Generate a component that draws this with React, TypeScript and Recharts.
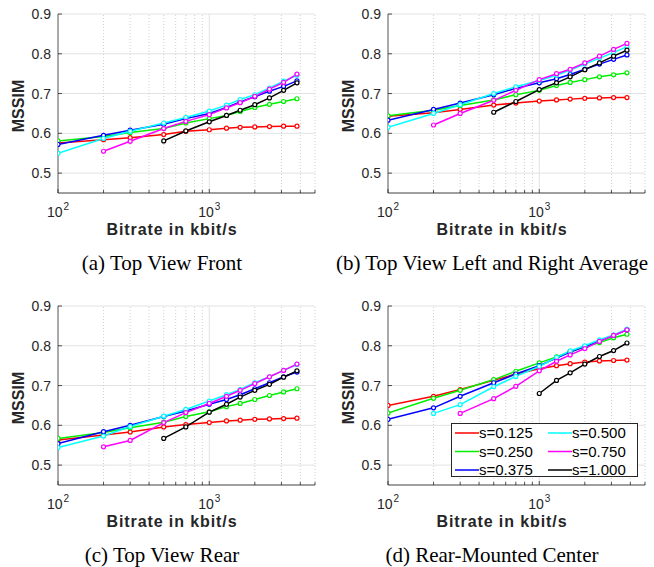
import { LineChart, Line, XAxis, YAxis, CartesianGrid, ReferenceLine, Legend } from 'recharts'

const BITRATE = [100, 200, 300, 500, 700, 1000, 1300, 1600, 2000, 2500, 3100, 3800]
const SERIES = ['s=0.125', 's=0.250', 's=0.375', 's=0.500', 's=0.750', 's=1.000']
const COLORS = ['#ff0000', '#00ee00', '#0000ff', '#00ffff', '#ff00ff', '#000000']

const Y_TICKS = [0.5, 0.6, 0.7, 0.8, 0.9]
const X_TICKS = [100, 200, 300, 400, 500, 600, 700, 800, 900, 1000, 2000, 3000, 4000, 5000]
const X_MINOR = [200, 300, 400, 500, 600, 700, 800, 900, 2000, 3000, 4000, 5000]

// one row per s value, in SERIES order
const FRONT = [
  [0.576, 0.584, 0.589, 0.597, 0.605, 0.609, 0.613, 0.615, 0.616, 0.617, 0.618, 0.618],
  [0.581, 0.592, 0.602, 0.612, 0.626, 0.637, 0.645, 0.655, 0.665, 0.673, 0.680, 0.687],
  [0.572, 0.595, 0.608, 0.623, 0.637, 0.650, 0.665, 0.679, 0.692, 0.706, 0.718, 0.732],
  [0.550, 0.587, 0.605, 0.626, 0.640, 0.656, 0.671, 0.685, 0.697, 0.714, 0.731, 0.746],
  [null, 0.555, 0.580, 0.612, 0.630, 0.647, 0.664, 0.677, 0.693, 0.711, 0.728, 0.749],
  [null, null, null, 0.581, 0.606, 0.629, 0.645, 0.658, 0.672, 0.689, 0.708, 0.727],
]

const LEFT_RIGHT = [
  [0.643, 0.652, 0.660, 0.671, 0.676, 0.681, 0.684, 0.686, 0.688, 0.689, 0.690, 0.690],
  [0.644, 0.658, 0.670, 0.684, 0.697, 0.708, 0.720, 0.728, 0.735, 0.742, 0.747, 0.752],
  [0.633, 0.660, 0.676, 0.697, 0.713, 0.727, 0.737, 0.748, 0.761, 0.774, 0.786, 0.797],
  [0.615, 0.650, 0.672, 0.700, 0.717, 0.733, 0.746, 0.759, 0.774, 0.789, 0.803, 0.818],
  [null, 0.621, 0.650, 0.683, 0.708, 0.735, 0.750, 0.761, 0.777, 0.794, 0.811, 0.826],
  [null, null, null, 0.653, 0.680, 0.710, 0.727, 0.742, 0.760, 0.777, 0.794, 0.809],
]

const REAR = [
  [0.563, 0.576, 0.583, 0.596, 0.602, 0.607, 0.611, 0.613, 0.615, 0.616, 0.617, 0.618],
  [0.567, 0.582, 0.594, 0.608, 0.622, 0.634, 0.647, 0.655, 0.665, 0.675, 0.684, 0.692],
  [0.554, 0.584, 0.600, 0.622, 0.636, 0.653, 0.665, 0.677, 0.692, 0.707, 0.722, 0.734],
  [0.544, 0.573, 0.597, 0.623, 0.640, 0.661, 0.677, 0.690, 0.707, 0.722, 0.738, 0.753],
  [null, 0.546, 0.562, 0.607, 0.632, 0.655, 0.673, 0.688, 0.705, 0.722, 0.738, 0.754],
  [null, null, null, 0.567, 0.596, 0.633, 0.653, 0.671, 0.688, 0.703, 0.721, 0.737],
]

const CENTER = [
  [0.650, 0.673, 0.690, 0.713, 0.729, 0.742, 0.750, 0.755, 0.759, 0.762, 0.763, 0.764],
  [0.631, 0.668, 0.688, 0.715, 0.736, 0.757, 0.772, 0.785, 0.797, 0.808, 0.820, 0.829],
  [0.615, 0.644, 0.673, 0.707, 0.729, 0.750, 0.769, 0.784, 0.798, 0.812, 0.826, 0.840],
  [null, 0.630, 0.652, 0.697, 0.723, 0.748, 0.771, 0.787, 0.800, 0.815, 0.827, 0.842],
  [null, null, 0.630, 0.667, 0.698, 0.737, 0.761, 0.777, 0.793, 0.811, 0.826, 0.840],
  [null, null, null, null, null, 0.680, 0.713, 0.732, 0.754, 0.773, 0.788, 0.807],
]

const SANS = '"Liberation Sans", Arial, Helvetica, sans-serif'
const SERIF = '"Liberation Serif", "Times New Roman", serif'
const INK = '#262626'

function XTick(props: any) {
  const { x, y, payload } = props
  const v = payload.value
  const major = v === 100 || v === 1000
  return (
    <g>
      <line x1={x} x2={x} y1={y} y2={y - (major ? 4 : 3)} stroke={INK} strokeWidth={0.8} />
      {major && (
        <text x={x} y={y + 24} textAnchor="middle" fontSize={14} fill={INK} fontFamily={SANS}>
          <tspan>10</tspan>
          <tspan dy={-7} dx={1} fontSize={10}>{Math.round(Math.log10(v))}</tspan>
        </text>
      )}
    </g>
  )
}

function YTick(props: any) {
  const { x, y, payload } = props
  return (
    <g>
      <line x1={x} x2={x + 4} y1={y} y2={y} stroke={INK} strokeWidth={0.8} />
      <text x={x - 7} y={y + 5} textAnchor="end" fontSize={14} fill={INK} fontFamily={SANS}>
        {payload.value.toFixed(1)}
      </text>
    </g>
  )
}

function XLabel() {
  return (
    <text x={172} y={235} textAnchor="middle" fontSize={16} fontWeight="bold" letterSpacing={0.9} fill={INK} fontFamily={SANS}>
      Bitrate in kbit/s
    </text>
  )
}

function YLabel() {
  return (
    <text x={18} y={106} transform="rotate(-90 18 106)" textAnchor="middle" dominantBaseline="central" fontSize={16} fontWeight="bold" fill={INK} fontFamily={SANS}>
      MSSIM
    </text>
  )
}

function LegendBox(props: any) {
  const items = props.payload || []
  return (
    <svg width={187} height={54} style={{ display: 'block' }}>
      <rect x={0.5} y={0.5} width={186} height={53} fill="#fff" stroke={INK} />
      {items.map((p: any, i: number) => {
        const x0 = Math.floor(i / 3) === 0 ? 4 : 97
        const yc = 10 + (i % 3) * 18.5
        return (
          <g key={p.value}>
            <line x1={x0} x2={x0 + 24} y1={yc} y2={yc} stroke={p.color} strokeWidth={1.5} />
            <text x={x0 + 24} y={yc + 5} fontSize={15} fill="#000" fontFamily={SANS}>{p.value}</text>
          </g>
        )
      })}
    </svg>
  )
}

function Panel({ values, caption, left, top, legend }: {
  values: (number | null)[][]; caption: string; left: number; top: number; legend?: boolean
}) {
  const rows = BITRATE.map((x, i) => {
    const row: Record<string, number | null> = { x }
    values.forEach((s, k) => { row['s' + k] = s[i] })
    return row
  })

  return (
    <div style={{ position: 'absolute', left, top, width: 330, height: 280 }}>
      <LineChart width={330} height={250} data={rows} margin={{ top: 14, right: 15, bottom: 12, left: 8 }}>
        <CartesianGrid vertical={false} stroke="#e2e2e2" />
        {X_MINOR.map((v) => (
          <ReferenceLine key={v} x={v} stroke="#c4c4c4" strokeWidth={0.8} strokeDasharray="1 2" />
        ))}
        <ReferenceLine x={1000} stroke="#e2e2e2" />
        <XAxis
          dataKey="x"
          type="number"
          scale="log"
          domain={[100, 5000]}
          allowDataOverflow
          ticks={X_TICKS}
          interval={0}
          tickSize={0}
          tickMargin={0}
          tickLine={false}
          tick={<XTick />}
          axisLine={{ stroke: INK, strokeWidth: 0.8 }}
          height={45}
          label={XLabel}
        />
        <YAxis
          type="number"
          domain={[0.45, 0.9]}
          allowDataOverflow
          ticks={Y_TICKS}
          interval={0}
          tickSize={0}
          tickMargin={0}
          tickLine={false}
          tick={<YTick />}
          axisLine={{ stroke: INK, strokeWidth: 0.8 }}
          width={50}
          label={YLabel}
        />
        {values.map((_, k) => (
          <Line
            key={k}
            type="linear"
            dataKey={'s' + k}
            name={SERIES[k]}
            stroke={COLORS[k]}
            strokeWidth={1.5}
            dot={{ r: 2, fill: '#fff', stroke: COLORS[k], strokeWidth: 1.2 }}
            activeDot={false}
            isAnimationActive={false}
          />
        ))}
        {legend && (
          <Legend
            layout="horizontal"
            verticalAlign="middle"
            align="center"
            content={<LegendBox />}
            wrapperStyle={{ left: 121, top: 131, width: 187, height: 54 }}
          />
        )}
      </LineChart>
      <div
        style={{
          position: 'absolute', left: -3, top: 253, width: 330, textAlign: 'center',
          fontFamily: SERIF, fontSize: 21, lineHeight: '21px', whiteSpace: 'nowrap', color: '#000',
        }}
      >
        {caption}
      </div>
    </div>
  )
}

export default function App() {
  return (
    <div style={{ position: 'absolute', left: 0, top: 0, width: 654, height: 567, background: '#fff' }}>
      <Panel values={FRONT} caption="(a) Top View Front" left={0} top={0} />
      <Panel values={LEFT_RIGHT} caption="(b) Top View Left and Right Average" left={330} top={0} />
      <Panel values={REAR} caption="(c) Top View Rear" left={0} top={292} />
      <Panel values={CENTER} caption="(d) Rear-Mounted Center" left={330} top={292} legend />
    </div>
  )
}
